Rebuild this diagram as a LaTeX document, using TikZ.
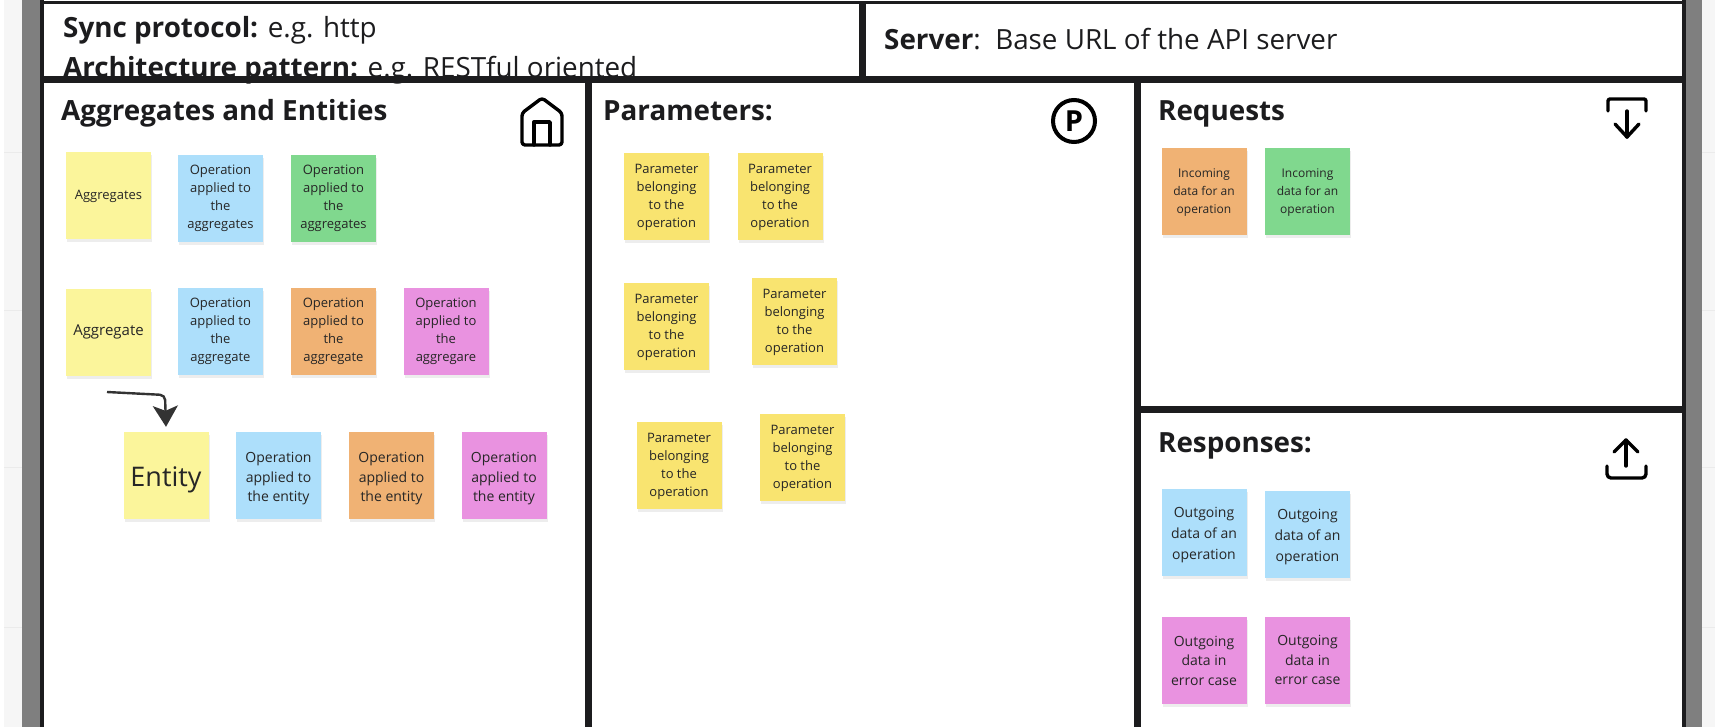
\documentclass[tikz,border=0pt]{standalone}
\usepackage{fontspec}
\setmainfont{Open Sans}
\usetikzlibrary{arrows.meta,shadows,calc}
\definecolor{ystick}{HTML}{FBF59B}
\definecolor{pstick}{HTML}{F9E470}
\definecolor{bstick}{HTML}{ADDFFB}
\definecolor{gstick}{HTML}{80D88E}
\definecolor{ostick}{HTML}{F0B274}
\definecolor{mstick}{HTML}{E992E0}
\definecolor{ink}{HTML}{1C1C1E}
\definecolor{band}{HTML}{7F7F7F}
\definecolor{outside}{HTML}{F6F6F6}
\newcommand{\topgap}[1]{\rule{0pt}{#1pt}}
\tikzset{
 x=1pt,y=-1pt,
 sticky/.style={minimum width=85pt,minimum height=87pt,inner sep=0pt,align=center,
   text=black!85,font=\fontsize{13}{18}\selectfont,
   general shadow={fill=black!7,shadow xshift=1pt,shadow yshift=-3pt}},
 ops/.style={sticky,font=\fontsize{14}{19.5}\selectfont},
 frameline/.style={draw=ink,line width=7pt},
 icon/.style={draw=black,line width=3.4pt,line cap=round,line join=round},
 title/.style={anchor=base west,inner sep=0pt,text=ink,font=\fontsize{27.8}{32}\selectfont\bfseries},
 header/.style={anchor=base west,inner sep=0pt,text=ink,font=\fontsize{27.8}{32}\selectfont},
}
\begin{document}
\begin{tikzpicture}
\useasboundingbox (0,0) rectangle (1715,727);
\fill[white] (0,0) rectangle (1715,727);
% outside strips
\fill[outside] (4,0) rectangle (22,727);
\fill[outside] (1702,0) rectangle (1715,727);
\foreach \yy in {153,310,467,627}{
 \draw[black!8,line width=1pt] (4,\yy) -- (22,\yy);
 \draw[black!8,line width=1pt] (1702,\yy) -- (1715,\yy);
}
\fill[band] (22,0) rectangle (40,727);
\fill[band] (1686,0) rectangle (1702,727);
% header text (clipped by the frame line below)
\node[header] (sync) at (63,38) {\textbf{Sync protocol:} e.g. http};
\node[header] (arch) at (63,78) {\textbf{Architecture pattern:} e.g. RESTful oriented};
\node[header] (server) at (884,50) {\textbf{Server}:\ \ Base URL of the API server};
% frame
\draw[ink,line width=3pt] (40,3) -- (1686,3);
\draw[frameline,line width=4pt] (41.5,0) -- (41.5,727);
\draw[frameline,line width=4pt] (1684,0) -- (1684,727);
\draw[frameline] (40,79.5) -- (1686,79.5);
\draw[frameline] (862,3) -- (862,79.5);
\draw[frameline] (588.5,79.5) -- (588.5,727);
\draw[frameline] (1137,79.5) -- (1137,727);
\draw[frameline] (1137,409) -- (1686,409);
% titles
\node[title] (t1) at (61,121) {Aggregates and Entities};
\node[title] (t2) at (603,121) {Parameters:};
\node[title] (t3) at (1158,121) {Requests};
\node[title] (t4) at (1158,452) {Responses:};
% house icon
\draw[icon,rounded corners=3pt] (522,113) -- (542,98) -- (562,113) -- (562,145) -- (522,145) -- cycle;
\draw[icon] (534,145) -- (534,122) -- (550,122) -- (550,145);
% parameter icon
\node[draw=black,line width=4pt,circle,minimum size=42pt,inner sep=0pt,font=\fontsize{29}{29}\selectfont\bfseries] (picon) at (1074,121) {P};
% download icon
\draw[icon,rounded corners=2pt] (1608,111) -- (1608,99) -- (1646,99) -- (1646,111);
\draw[icon] (1627,111) -- (1627,137);
\draw[icon] (1615,124) -- (1627,137) -- (1639,124);
% upload icon
\draw[icon,rounded corners=4pt] (1607,466) -- (1607,478) -- (1646,478) -- (1646,466);
\draw[icon] (1626,440) -- (1626,466);
\draw[icon] (1614,452) -- (1626,440) -- (1638,452);
% aggregates row
\node[sticky,fill=ystick] (aggs) at (108.5,196) {Aggregates};
\node[sticky,fill=bstick] (op1) at (220.5,198.5) {Operation\\applied to\\the\\aggregates};
\node[sticky,fill=gstick] (op2) at (333.5,198.5) {Operation\\applied to\\the\\aggregates};
% aggregate row
\node[sticky,fill=ystick,font=\fontsize{15}{18}\selectfont] (agg) at (108.5,332) {\raisebox{2pt}{Aggregate}};
\node[sticky,fill=bstick] (op3) at (220.5,331) {Operation\\applied to\\the\\aggregate};
\node[sticky,fill=ostick] (op4) at (333.5,331) {Operation\\applied to\\the\\aggregate};
\node[sticky,fill=mstick] (op5) at (446,331) {Operation\\applied to\\the\\aggregare};
% entity row
\node[sticky,fill=ystick,font=\fontsize{27}{30}\selectfont] (ent) at (166,475.5) {\topgap{29}Entity};
\node[ops,fill=bstick] (op6) at (278.5,475.5) {\topgap{16.5}Operation\\applied to\\the entity};
\node[ops,fill=ostick] (op7) at (391.5,475.5) {\topgap{16.5}Operation\\applied to\\the entity};
\node[ops,fill=mstick] (op8) at (504,475.5) {\topgap{16.5}Operation\\applied to\\the entity};
% connector
\coordinate (astart) at (107,392);
\draw[black!80,line width=2.4pt,rounded corners=5pt,-{Stealth[length=21pt,width=25pt,inset=5pt]}] (astart) -- (165,395) -- ($(ent.north)+(0,-5)$);
% parameters
\node[sticky,fill=pstick] (p1) at (666.5,196.5) {\topgap{12}Parameter\\belonging\\to the\\operation};
\node[sticky,fill=pstick] (p2) at (780,196.5) {\topgap{12}Parameter\\belonging\\to the\\operation};
\node[sticky,fill=pstick] (p3) at (666.5,326) {\topgap{12}Parameter\\belonging\\to the\\operation};
\node[sticky,fill=pstick] (p4) at (794.5,321.5) {\topgap{12}Parameter\\belonging\\to the\\operation};
\node[sticky,fill=pstick] (p5) at (679,465) {\topgap{12}Parameter\\belonging\\to the\\operation};
\node[sticky,fill=pstick] (p6) at (802.5,457) {\topgap{12}Parameter\\belonging\\to the\\operation};
% requests
\node[sticky,fill=ostick,font=\fontsize{12}{18.3}\selectfont] (r1) at (1204,191.5) {\topgap{11}Incoming\\data for an\\operation};
\node[sticky,fill=gstick,font=\fontsize{12}{18.3}\selectfont] (r2) at (1307.5,191.5) {\topgap{11}Incoming\\data for an\\operation};
% responses
\node[ops,fill=bstick,font=\fontsize{14}{20.7}\selectfont] (s1) at (1204,532.5) {\topgap{15}Outgoing\\data of an\\operation};
\node[ops,fill=bstick,font=\fontsize{14}{20.7}\selectfont] (s2) at (1307.5,534.5) {\topgap{15}Outgoing\\data of an\\operation};
\node[ops,fill=mstick] (s3) at (1204,660.5) {Outgoing\\data in\\error case};
\node[ops,fill=mstick] (s4) at (1307.5,660) {Outgoing\\data in\\error case};
\end{tikzpicture}
\end{document}
